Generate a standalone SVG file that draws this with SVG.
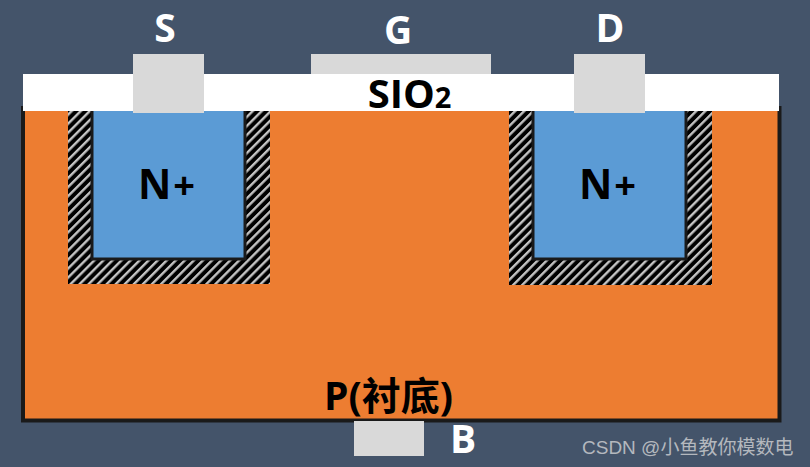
<svg xmlns="http://www.w3.org/2000/svg" width="810" height="467" viewBox="0 0 810 467">
<style>
text{font-family:"Open Sans","Noto Sans CJK SC",sans-serif;font-weight:700}
.w{fill:#fff;font-size:39px}
.k{fill:#000}
.m{fill:#d9d9d9}
.n{fill:#5b9bd5;stroke:#1a1a1a;stroke-width:3}
</style>
<defs>
<pattern id="h" width="6.400" height="6.400" patternUnits="userSpaceOnUse" patternTransform="rotate(45)">
<rect width="6.400" height="6.400" fill="#000"/>
<rect width="2.400" height="6.400" fill="#c4c4c4"/>
</pattern>
</defs>
<rect width="810" height="467" fill="#44546a"/>
<g id="substrate"><rect x="23" y="108" width="756.500" height="312.500" fill="#ed7d31" stroke="#1a1a1a" stroke-width="4"/></g>
<g id="well-left"><rect x="68" y="110" width="202" height="174" fill="url(#h)"/><rect x="92" y="105" width="153" height="154" class="n"/></g>
<g id="well-right"><rect x="509" y="110" width="203" height="175" fill="url(#h)"/><rect x="533" y="105" width="153" height="154" class="n"/></g>
<g id="oxide"><rect x="23" y="74" width="756" height="37" fill="#fff"/><text x="409.500" y="108" font-size="40" text-anchor="middle" class="k">SIO<tspan font-size="29">2</tspan></text></g>
<g id="source"><rect x="133" y="54" width="71" height="59" class="m"/><text x="165" y="42" text-anchor="middle" class="w">S</text></g>
<g id="gate"><rect x="311" y="54" width="180" height="20" class="m"/><text x="398" y="44" text-anchor="middle" class="w">G</text></g>
<g id="drain"><rect x="574" y="54" width="71" height="59" class="m"/><text x="610" y="42" text-anchor="middle" class="w">D</text></g>
<g id="body"><rect x="354" y="421" width="70" height="35" class="m"/><text x="463" y="453" text-anchor="middle" class="w">B</text></g>
<g id="n-left"><text x="138" y="199" font-size="41" class="k">N<tspan dx="2" font-size="38">+</tspan></text></g>
<g id="n-right"><text x="579" y="199" font-size="41" class="k">N<tspan dx="2" font-size="38">+</tspan></text></g>
<g id="p-label"><text x="388.500" y="410" font-size="39" text-anchor="middle" class="k">P(衬底)</text></g>
<g id="connectors"/>
<text x="582" y="454" font-size="19" style="font-family:'Liberation Sans','Noto Sans CJK SC',sans-serif;font-weight:400" fill="#b4b8be">CSDN @小鱼教你模数电</text>
</svg>
